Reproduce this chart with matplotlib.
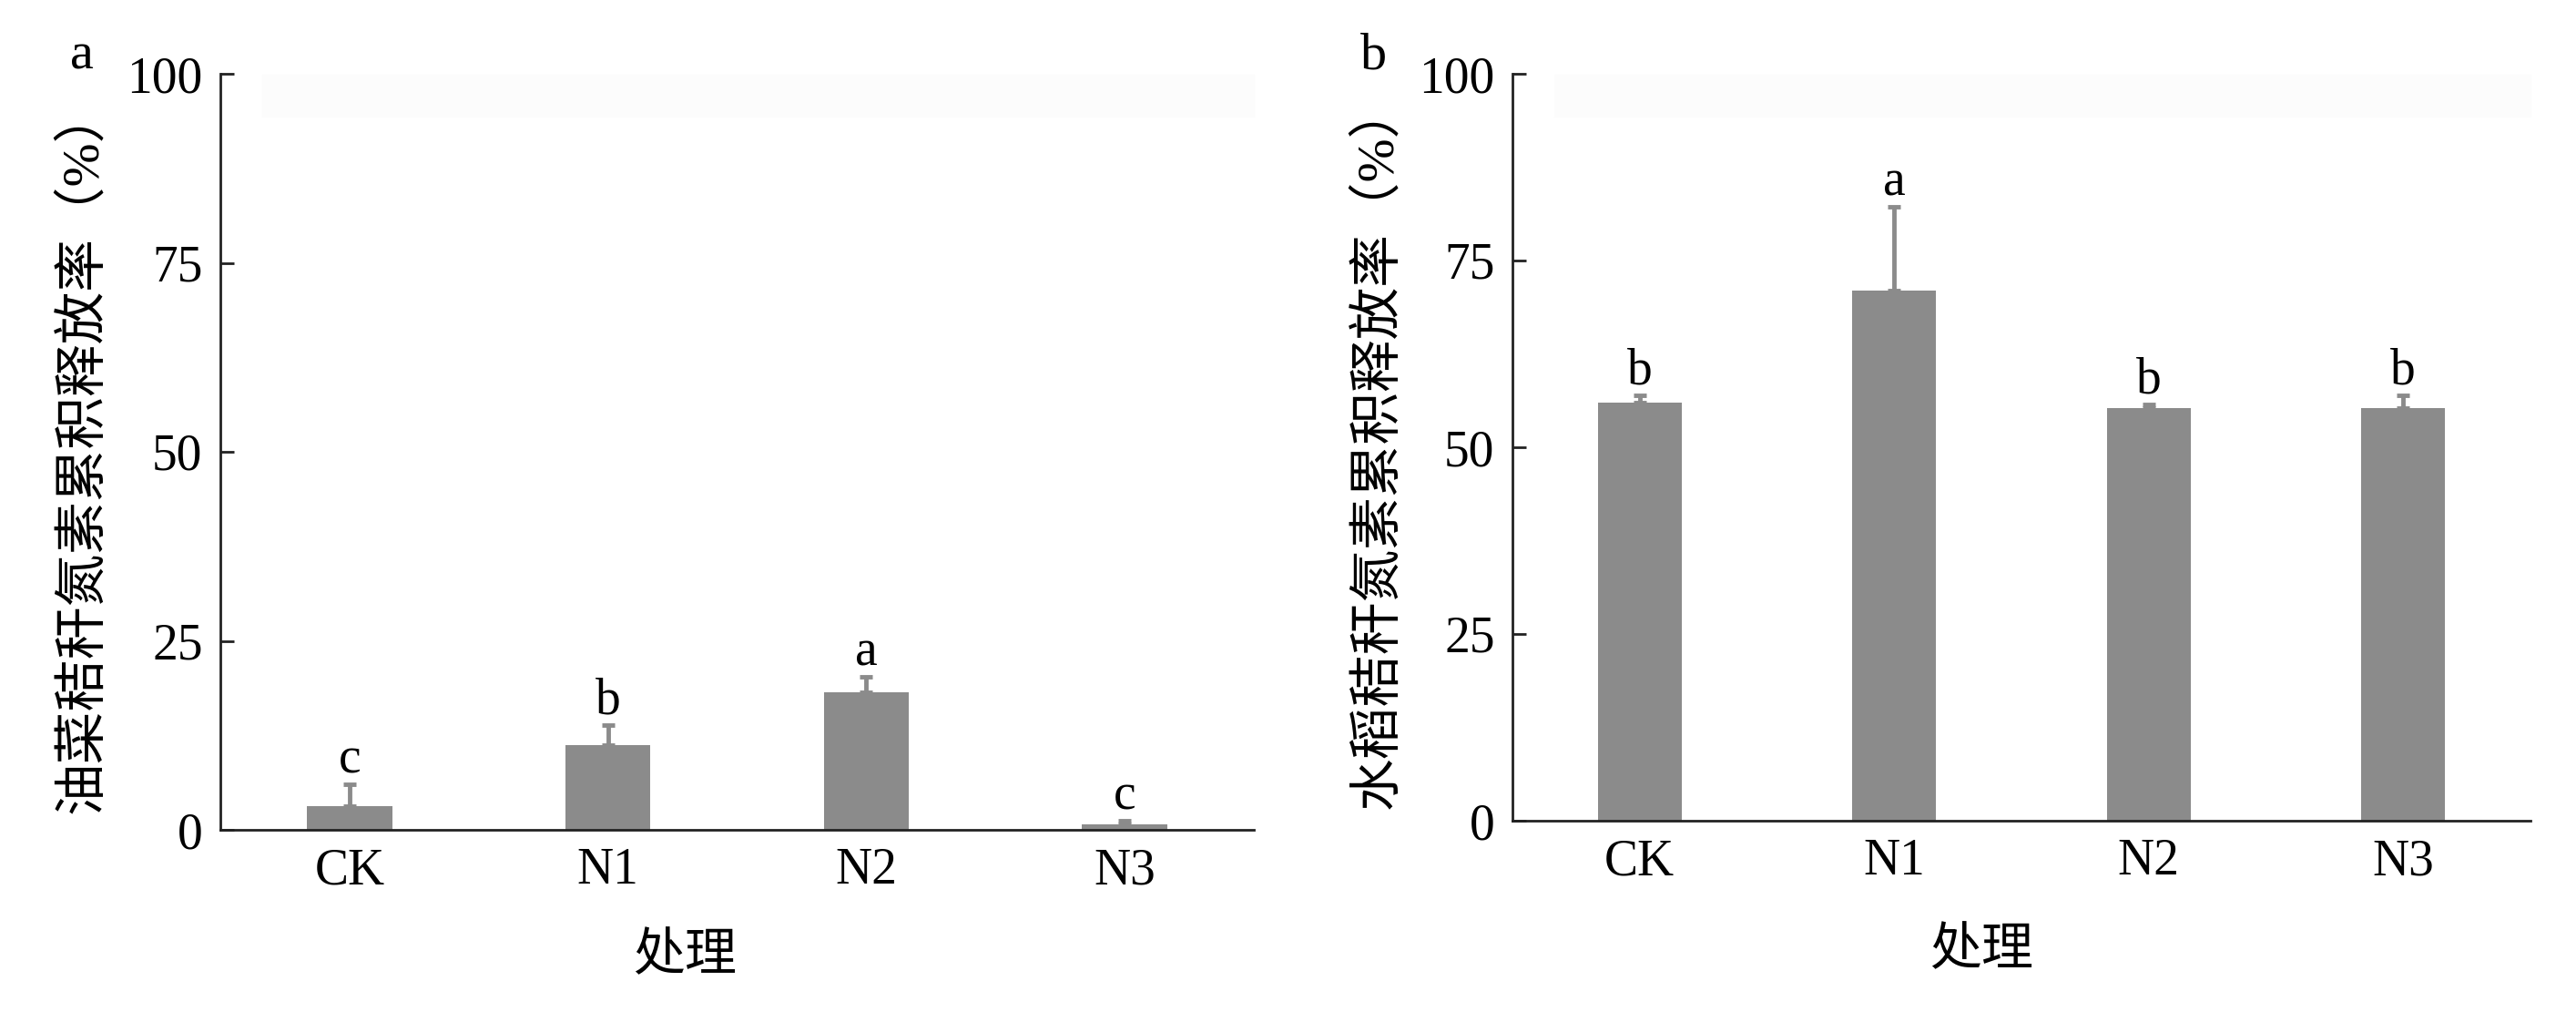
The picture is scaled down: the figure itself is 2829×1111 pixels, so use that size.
import numpy as np
import matplotlib.pyplot as plt
from matplotlib.patches import Rectangle

# data
treatments = ['CK', 'N1', 'N2', 'N3']
rape_mean = [3.1, 11.2, 18.2, 0.7]
rape_err = [2.9, 2.7, 2.1, 0.5]
rape_sig = ['c', 'b', 'a', 'c']
rice_mean = [56.0, 71.0, 55.2, 55.2]
rice_err = [1.0, 11.2, 0.5, 1.8]
rice_sig = ['b', 'a', 'b', 'b']
yticks = [0, 25, 50, 75, 100]

serif = ['Liberation Serif', 'Noto Sans CJK SC']
plt.rcParams['font.family'] = serif
plt.rcParams['font.size'] = 39

W, H = 2829, 1111
fig = plt.figure(figsize=(W / 100, H / 100), dpi=100)
bar_col = '#8b8b8b'

panels = [
    # (left px, right px, top px, bottom px, means, errs, letters, ylabel, tag, xlabel pos)
    (242, 1377, 81, 911, rape_mean, rape_err, rape_sig,
     '油菜秸秆氮素累积释放率（%）', 'a', (0.449, -0.168)),
    (1661, 2779, 81, 901, rice_mean, rice_err, rice_sig,
     '水稻秸秆氮素累积释放率（%）', 'b', (0.461, -0.175)),
]

for l, r, t, b, means, errs, sig, ylab, tag, xl in panels:
    ax = fig.add_axes([l / W, 1 - b / H, (r - l) / W, (b - t) / H])
    # very faint grey band near the top of each panel (scan artefact in the original)
    fig.patches.append(Rectangle(((l + 46) / W, 1 - 128 / H), (r - l - 46) / W, 46 / H,
                                 transform=fig.transFigure, color='#fcfcfc', zorder=0))
    x = np.arange(len(treatments))
    ax.bar(x, means, width=0.33, color=bar_col, zorder=2)
    ax.errorbar(x, means, yerr=[np.zeros(len(errs)), errs], fmt='none',
                ecolor=bar_col, elinewidth=3.5, capsize=5, capthick=3.5, zorder=2)
    for xi, m, e, s in zip(x, means, errs, sig):
        ax.annotate(s, (xi, m + e), xytext=(0, 9), textcoords='offset points',
                    ha='center', va='baseline', fontsize=40)

    ax.set_xlim(-0.5, 3.5)
    ax.set_ylim(0, 100)
    ax.set_yticks(yticks)
    ax.set_xticks(x)
    ax.set_xticklabels(treatments)
    for sp in ['top', 'right']:
        ax.spines[sp].set_visible(False)
    for sp in ['left', 'bottom']:
        ax.spines[sp].set_linewidth(2.0)
        ax.spines[sp].set_color('#222222')
        ax.spines[sp].set_zorder(3)
    ax.tick_params(axis='y', direction='in', length=11, width=2.0, pad=14,
                   color='#222222', labelsize=40)
    ax.tick_params(axis='x', length=0, pad=14, labelsize=40)

    ax.set_ylabel(ylab, fontsize=41.5, va='center')
    ax.yaxis.set_label_coords(-0.133, 0.502)
    ax.set_xlabel('处理', fontsize=41, va='center')
    ax.xaxis.set_label_coords(*xl)

    fig.text((l - 152) / W, 1 - 75 / H, tag, ha='center', va='baseline', fontsize=42)

fig.savefig('out.png', dpi=100, facecolor='white')
